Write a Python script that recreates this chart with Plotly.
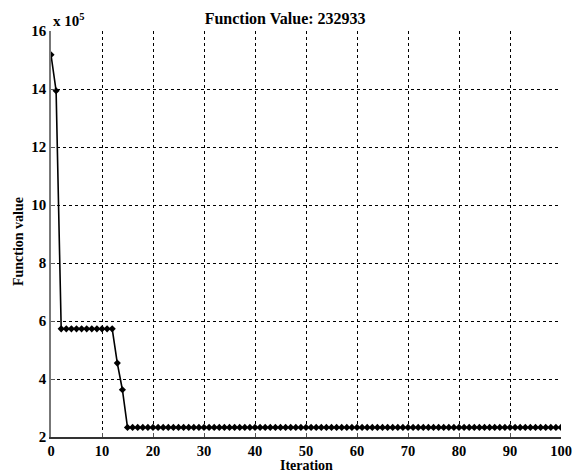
import plotly.graph_objects as go

# Best function value recorded at each iteration of the optimiser
iterations = list(range(0, 101))
function_values = [
    1518000, 1394000,
    573000, 573000, 573000, 573000, 573000, 573000, 573000, 573000, 573000, 573000, 573000,
    455000, 363000,
    232933, 232933, 232933, 232933, 232933, 232933, 232933, 232933, 232933, 232933,
    232933, 232933, 232933, 232933, 232933, 232933, 232933, 232933, 232933, 232933,
    232933, 232933, 232933, 232933, 232933, 232933, 232933, 232933, 232933, 232933,
    232933, 232933, 232933, 232933, 232933, 232933, 232933, 232933, 232933, 232933,
    232933, 232933, 232933, 232933, 232933, 232933, 232933, 232933, 232933, 232933,
    232933, 232933, 232933, 232933, 232933, 232933, 232933, 232933, 232933, 232933,
    232933, 232933, 232933, 232933, 232933, 232933, 232933, 232933, 232933, 232933,
    232933, 232933, 232933, 232933, 232933, 232933, 232933, 232933, 232933, 232933,
    232933, 232933, 232933, 232933, 232933, 232933,
]
scale = 1e5
x_ticks = [0, 10, 20, 30, 40, 50, 60, 70, 80, 90, 100]
y_ticks = [2, 4, 6, 8, 10, 12, 14, 16]

font_family = "Liberation Serif"
label_font = dict(family=font_family, size=14, color="black", weight=700)

fig = go.Figure()
fig.add_trace(go.Scatter(
    x=iterations,
    y=[v / scale for v in function_values],
    mode="lines+markers",
    line=dict(color="black", width=1.6),
    marker=dict(symbol="diamond", size=5.5, color="black"),
    showlegend=False,
))

axis_common = dict(
    showgrid=True,
    gridcolor="black",
    gridwidth=1,
    griddash="3px,3px",
    zeroline=False,
    ticks="inside",
    ticklen=4,
    tickcolor="#555555",
    automargin=False,
)

fig.update_xaxes(
    range=[0, 100],
    tickvals=x_ticks,
    showline=True,
    linecolor="#333333",
    linewidth=1.5,
    tickfont=dict(family=font_family, size=14.5, color="black", weight=700),
    **axis_common,
)
fig.update_yaxes(
    range=[2, 16],
    tickvals=y_ticks,
    showline=True,
    linecolor="#777777",
    linewidth=1.5,
    tickfont=dict(family=font_family, size=15, color="black", weight=700),
    **axis_common,
)

fig.update_layout(
    width=576,
    height=472,
    margin=dict(l=51, r=15, t=31, b=35),
    paper_bgcolor="white",
    plot_bgcolor="white",
    title=dict(
        text="Function Value: %d" % function_values[-1],
        font=dict(family=font_family, size=16, color="black", weight=700),
        xref="container", x=0.495, xanchor="center",
        y=0.96, yanchor="middle",
    ),
    annotations=[
        dict(
            text="x 10<sup>5</sup>",
            xref="paper", yref="paper", x=0.0, y=1.0,
            xanchor="left", yanchor="bottom", showarrow=False,
            font=dict(family=font_family, size=15, color="black", weight=700),
        ),
        dict(
            text="Iteration",
            xref="paper", yref="paper", x=0.5, y=0.0,
            xanchor="center", yanchor="middle", yshift=-28,
            showarrow=False, font=label_font,
        ),
        dict(
            text="Function value",
            xref="paper", yref="paper", x=0.0, y=0.48,
            xanchor="center", yanchor="middle", xshift=-33,
            textangle=-90, showarrow=False, font=label_font,
        ),
    ],
)

fig.write_html("out.html")
